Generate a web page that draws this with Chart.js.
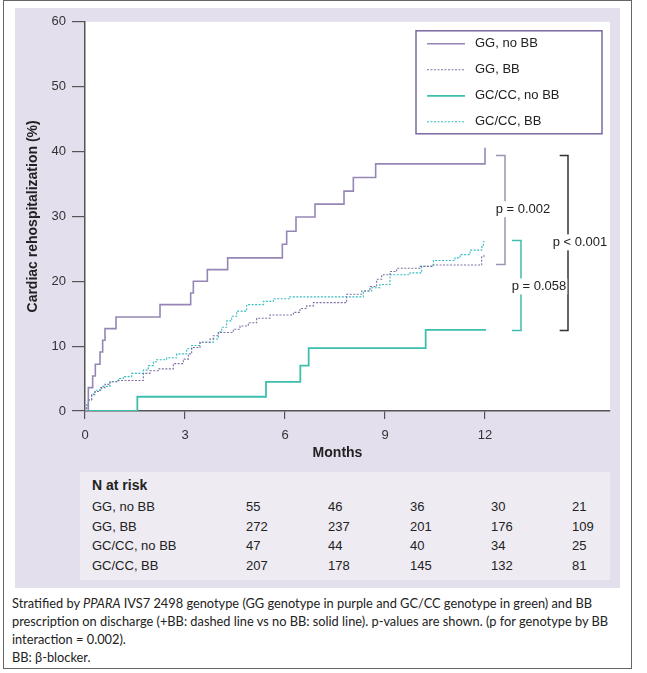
<!DOCTYPE html>
<html>
<head>
<meta charset="utf-8">
<script src="https://cdn.jsdelivr.net/npm/chart.js@4.4.1/dist/chart.umd.min.js"></script>
<style>
  body { margin: 0; background: #fff; font-family: "Liberation Sans", Arial, sans-serif; }
  #frame { position: absolute; left: 3px; top: 0px; width: 627px; height: 667px; border: 1px solid #666; }
  #panel { position: absolute; left: 15px; top: 8px; width: 605px; height: 580px; background: #e4dfed; }
  #myChart { position: absolute; left: 15px; top: 8px; }
  #risk { position: absolute; left: 80px; top: 472px; width: 530px; height: 108px; background: #eeebf3; color: #222; font-size: 13px; }
  #risk div { position: absolute; white-space: nowrap; }
  #caption { position: absolute; left: 12px; top: 594px; font-family: Lato, "Noto Sans", sans-serif; font-size: 12.8px; line-height: 18px; color: #222; white-space: nowrap; }
</style>
</head>
<body>
<div id="frame"></div>
<div id="panel"></div>
<canvas id="myChart" width="605" height="460"></canvas>
<div id="risk"></div>
<div id="caption">Stratified by <i>PPARA</i> IVS7 2498 genotype (GG genotype in purple and GC/CC genotype in green) and BB<br>prescription on discharge (+BB: dashed line vs no BB: solid line). p-values are shown. (p for genotype by BB<br>interaction = 0.002).<br>BB: β-blocker.</div>
<script>
// Kaplan-Meier curves, months vs cumulative rehospitalization (%)
const ggNoBBMonths = [0, 0.1, 0.23, 0.31, 0.45, 0.53, 0.6, 0.93, 2.25, 3.17, 3.25, 3.67, 4.28, 5.92, 6.05, 6.33, 6.9, 7.77, 8.05, 8.72, 12.0, 12.0];
const ggNoBBPct    = [0, 3.6, 5.4, 7.2, 9.1, 10.9, 12.7, 14.5, 16.4, 18.2, 20.0, 21.8, 23.6, 25.7, 27.7, 29.9, 31.9, 33.9, 36.0, 38.1, 38.1, 40.6];

const ggBBMonths = [0, 0.05, 0.1, 0.2, 0.3, 0.45, 0.6, 0.75, 0.95, 1.75, 1.95, 2.2, 2.65, 2.95, 3.1, 3.2, 3.45, 3.75, 3.85, 4.0, 4.45, 4.65, 4.9, 5.15, 5.55, 6.25, 6.45, 6.65, 6.85, 7.85, 8.3, 8.55, 8.75, 8.9, 9.15, 9.35, 10.05, 10.4, 11.9, 12.0];
const ggBBPct    = [0, 0.8, 1.7, 2.5, 3.0, 3.6, 4.1, 4.5, 4.7, 5.8, 6.2, 6.5, 7.3, 8.0, 8.8, 9.8, 10.6, 11.1, 11.6, 12.1, 12.6, 13.1, 13.6, 14.3, 14.8, 15.2, 15.8, 16.2, 16.7, 18.0, 18.5, 19.2, 20.3, 21.0, 21.5, 22.0, 22.3, 22.5, 23.9, 23.9];

const gcNoBBMonths = [0, 1.57, 5.43, 6.46, 6.71, 10.22, 12.03];
const gcNoBBPct    = [0, 2.2, 4.5, 7.0, 9.7, 12.5, 12.5];

const gcBBMonths = [0, 0.05, 0.1, 0.2, 0.3, 0.5, 0.75, 1.0, 1.15, 1.4, 1.75, 1.9, 2.05, 2.15, 2.45, 2.75, 3.05, 3.2, 3.45, 3.85, 4.0, 4.1, 4.25, 4.4, 4.55, 4.85, 5.35, 5.65, 6.15, 8.35, 8.6, 8.85, 9.15, 9.75, 10.1, 10.45, 11.1, 11.25, 11.55, 11.9, 11.95, 12.0];
const gcBBPct    = [0, 1.0, 1.7, 2.6, 3.2, 3.8, 4.5, 5.0, 5.3, 5.8, 6.3, 7.0, 7.6, 7.9, 8.2, 8.8, 9.6, 10.1, 10.6, 11.1, 12.2, 12.9, 13.9, 14.6, 15.4, 16.4, 16.9, 17.3, 17.6, 18.5, 19.0, 19.5, 21.0, 21.3, 22.3, 23.2, 23.6, 24.1, 24.8, 25.3, 26.1, 26.1];

const seriesLabels = ['GG, no BB', 'GG, BB', 'GC/CC, no BB', 'GC/CC, BB'];
const xTicks = [0, 3, 6, 9, 12];
const yTicks = [0, 10, 20, 30, 40, 50, 60];

// N at risk table
const riskHeader = 'N at risk';
const riskGGNoBB = [55, 46, 36, 30, 21];
const riskGGBB   = [272, 237, 201, 176, 109];
const riskGCNoBB = [47, 44, 40, 34, 25];
const riskGCBB   = [207, 178, 145, 132, 81];

// p-value brackets
const pLabels = ['p = 0.002', 'p = 0.058', 'p < 0.001'];

const purple = '#9686b6';
const purpleDash = '#7f70a3';
const teal = '#3dbfae';
const tealDash = '#35bcc0';

function pts(xs, ys) {
  return xs.map((x, i) => ({ x: x, y: ys[i] }));
}

const datasets = [
  { label: seriesLabels[0], data: pts(ggNoBBMonths, ggNoBBPct), borderColor: purple, borderWidth: 1.6 },
  { label: seriesLabels[1], data: pts(ggBBMonths, ggBBPct), borderColor: purpleDash, borderWidth: 1.1, borderDash: [2, 1.5] },
  { label: seriesLabels[2], data: pts(gcNoBBMonths, gcNoBBPct), borderColor: teal, borderWidth: 1.8 },
  { label: seriesLabels[3], data: pts(gcBBMonths, gcBBPct), borderColor: tealDash, borderWidth: 1.1, borderDash: [2, 1.5] },
].map(d => Object.assign(d, { stepped: true, pointRadius: 0, fill: false }));

const font = { family: '"Liberation Sans", Arial, sans-serif', size: 13 };
const boldFont = { family: font.family, size: 14, weight: 'bold' };

const whiteArea = {
  id: 'whiteArea',
  beforeDraw(chart) {
    const a = chart.chartArea, c = chart.ctx;
    c.save();
    c.fillStyle = '#fff';
    c.fillRect(a.left, a.top, a.right - a.left, a.bottom - a.top);
    c.restore();
  }
};

const brackets = {
  id: 'brackets',
  afterDatasetsDraw(chart) {
    const c = chart.ctx, xs = chart.scales.x, ys = chart.scales.y;
    const defs = [
      { x: 12.6, tick: 0.27, y0: 39.4, y1: 22.6, color: '#9d92b4', lx: 13.14, ly: 31.1, text: pLabels[0] },
      { x: 13.08, tick: 0.27, y0: 26.3, y1: 12.4, color: teal, lx: 13.62, ly: 19.2, text: pLabels[1] },
      { x: 14.49, tick: 0.25, y0: 39.4, y1: 12.4, color: '#333', lx: 14.85, ly: 26.0, text: pLabels[2] },
    ];
    c.save();
    c.lineWidth = 1.5;
    defs.forEach(d => {
      const x = xs.getPixelForValue(d.x), xt = xs.getPixelForValue(d.x - d.tick);
      const ya = ys.getPixelForValue(d.y0), yb = ys.getPixelForValue(d.y1);
      c.strokeStyle = d.color;
      c.beginPath();
      c.moveTo(xt, ya); c.lineTo(x, ya); c.lineTo(x, yb); c.lineTo(xt, yb);
      c.stroke();
    });
    c.font = '13px "Liberation Sans", Arial, sans-serif';
    c.textAlign = 'center';
    c.textBaseline = 'middle';
    defs.forEach(d => {
      const lx = xs.getPixelForValue(d.lx), ly = ys.getPixelForValue(d.ly);
      const w = c.measureText(d.text).width;
      c.fillStyle = '#fff';
      c.fillRect(lx - w / 2 - 1, ly - 8, w + 2, 16);
      c.fillStyle = '#222';
      c.fillText(d.text, lx, ly);
    });
    c.restore();
  }
};

const legendBox = {
  id: 'legendBox',
  afterDraw(chart) {
    const c = chart.ctx, a = chart.chartArea;
    const left = a.right - 194, top = a.top + 9, w = 186, h = 103;
    c.save();
    c.fillStyle = '#fff';
    c.fillRect(left, top, w, h);
    c.strokeStyle = '#7a68a2';
    c.lineWidth = 1.5;
    c.strokeRect(left, top, w, h);
    c.font = '13px "Liberation Sans", Arial, sans-serif';
    c.textBaseline = 'middle';
    c.textAlign = 'left';
    chart.data.datasets.forEach((d, i) => {
      const y = top + 13 + i * 26;
      c.strokeStyle = d.borderColor;
      c.lineWidth = d.borderWidth;
      c.setLineDash(d.borderDash || []);
      c.beginPath();
      c.moveTo(left + 11, y); c.lineTo(left + 49, y);
      c.stroke();
      c.setLineDash([]);
      c.fillStyle = '#222';
      c.fillText(d.label, left + 59, y);
    });
    c.restore();
  }
};

// "Months" sits a little left of the plot centre in the original
const monthsTitle = {
  id: 'monthsTitle',
  afterDraw(chart) {
    const c = chart.ctx, xs = chart.scales.x;
    c.save();
    c.font = 'bold 14px "Liberation Sans", Arial, sans-serif';
    c.fillStyle = '#222';
    c.textAlign = 'center';
    c.textBaseline = 'middle';
    c.fillText('Months', (xs.left + xs.right) / 2 - 10, xs.bottom - 8);
    c.restore();
  }
};

const config = {
  type: 'line',
  data: { datasets: datasets },
  options: {
    responsive: false,
    animation: false,
    layout: { padding: { left: 0, right: 10, top: 10, bottom: 7 } },
    plugins: { legend: { display: false }, tooltip: { enabled: false } },
    scales: {
      x: {
        type: 'linear', min: 0, max: 15.75,
        afterBuildTicks: s => { s.ticks = xTicks.map(v => ({ value: v })); },
        afterFit: s => { s.height = 50; },
        ticks: { font: font, color: '#333', padding: 9, maxRotation: 0 },
        grid: { drawOnChartArea: false, tickLength: 8, color: '#555', lineWidth: 1.2 },
        border: { color: '#555', width: 1.5 },
        title: { display: false }
      },
      y: {
        min: 0, max: 60,
        afterBuildTicks: s => { s.ticks = yTicks.map(v => ({ value: v })); },
        afterFit: s => { s.width = 70; },
        ticks: { font: font, color: '#333', padding: 6 },
        grid: { drawOnChartArea: false, tickLength: 13, color: '#555', lineWidth: 1.2 },
        border: { color: '#555', width: 1.5 },
        title: { display: true, text: 'Cardiac rehospitalization (%)', color: '#222', font: boldFont, padding: { top: 10, bottom: 0 } }
      }
    }
  },
  plugins: [whiteArea, brackets, legendBox, monthsTitle]
};

const myChart = new Chart(document.getElementById('myChart'), config);

// N at risk table
const risk = document.getElementById('risk');
const riskRows = [riskGGNoBB, riskGGBB, riskGCNoBB, riskGCBB];
const colX = [166, 248, 330, 411, 492];
function cell(text, x, y, bold) {
  const d = document.createElement('div');
  d.textContent = text;
  d.style.left = x + 'px';
  d.style.top = y + 'px';
  if (bold) { d.style.fontWeight = 'bold'; d.style.fontSize = '14px'; }
  risk.appendChild(d);
}
cell(riskHeader, 12, 5, true);
riskRows.forEach((row, r) => {
  const y = 27 + r * 19.5;
  cell(seriesLabels[r], 12, y, false);
  row.forEach((v, i) => cell(String(v), colX[i], y, false));
});
</script>
</body>
</html>
